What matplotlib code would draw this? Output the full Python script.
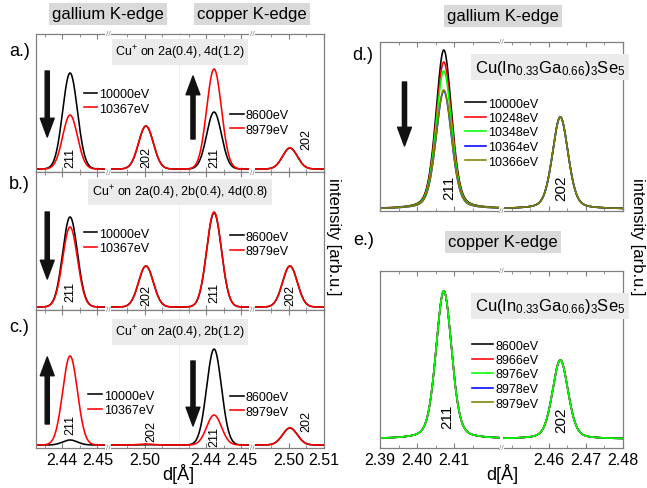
import numpy as np
import matplotlib
matplotlib.use('Agg')
import matplotlib.pyplot as plt
from matplotlib import font_manager

W, H = 647, 489

# ---------------- data ----------------
# left column: simulated profiles (arb. units, same scale in every row)
row_tags = ['a.)', 'b.)', 'c.)']
row_titles = [r'Cu$^{+}$ on 2a(0.4), 4d(1.2)',
              r'Cu$^{+}$ on 2a(0.4), 2b(0.4), 4d(0.8)',
              r'Cu$^{+}$ on 2a(0.4), 2b(1.2)']
ga_energies = ['10000eV', '10367eV']
cu_energies = ['8600eV', '8979eV']
sim_pos = [2.4422, 2.5003]          # 211, 202
sim_sigma = 0.0021
# per row: [black, red]
ga_211 = [[96, 54], [90, 80], [5, 89]]
ga_202 = [[43, 43], [41, 41], [0.3, 1.0]]
cu_211 = [[57, 100], [94, 95], [96, 30]]
cu_202 = [[21, 21], [41, 41], [17, 17]]

# right column: measured profiles
d_energies = ['10000eV', '10248eV', '10348eV', '10364eV', '10366eV']
d_211 = [159, 147, 138, 118, 119]
d_202 = [92, 92, 92, 92, 92]
e_energies = ['8600eV', '8966eV', '8976eV', '8978eV', '8979eV']
e_211 = [148, 148, 148, 148, 148]
e_202 = [79, 79, 79, 79, 79]
meas_pos = [2.4072, 2.4631]
meas_fwhm = 0.005
meas_eta = 0.3

sample = r'Cu(In$_{0.33}$Ga$_{0.66}$)$_3$Se$_5$'

# ---------------- style ----------------
names = {f.name for f in font_manager.fontManager.ttflist}
fam = 'Liberation Sans Narrow' if 'Liberation Sans Narrow' in names else 'Liberation Sans'
plt.rcParams['font.family'] = fam
plt.rcParams['mathtext.fontset'] = 'custom'
plt.rcParams['mathtext.rm'] = fam
plt.rcParams['mathtext.it'] = fam + ':italic'

frame = '#808080'
sim_colors = ['black', '#ff0000']
meas_colors = ['black', '#ff0000', '#00ff00', '#0000ff', '#808000']
hdr_box = dict(fc='#d9d9d9', ec='none', pad=2.5)
ttl_box = dict(fc='#ebebeb', ec='none', pad=2.5)


def broken(b1, b2, gap):
    k = gap / (b2 - b1)

    def fwd(x):
        x = np.asarray(x, dtype=float)
        return np.where(x <= b1, x, np.where(x >= b2, x - (b2 - b1) + gap, b1 + (x - b1) * k))

    def inv(y):
        y = np.asarray(y, dtype=float)
        return np.where(y <= b1, y, np.where(y >= b1 + gap, y + (b2 - b1) - gap, b1 + (y - b1) / k))
    return fwd, inv


def gauss(x, c, h, s):
    return h * np.exp(-0.5 * ((x - c) / s) ** 2)


def pvoigt(x, c, h, fw, eta):
    u = (x - c) / fw
    return h * (eta / (1 + 4 * u ** 2) + (1 - eta) * np.exp(-4 * np.log(2) * u ** 2))


fig = plt.figure(figsize=(W / 100, H / 100), dpi=100)


def px_axes(x0, y0, x1, y1):
    return fig.add_axes([x0 / W, 1 - y1 / H, (x1 - x0) / W, (y1 - y0) / H])


def fp(x, y):
    return x / W, 1 - y / H


def setup(ax, lims, ticks, minor, labels, ylim, tsize):
    lo, b1, b2, hi, gap = lims
    ax.set_xscale('function', functions=broken(b1, b2, gap))
    ax.set_xlim(lo, hi)
    ax.set_ylim(*ylim)
    ax.set_yticks([])
    ax.set_xticks(ticks)
    ax.set_xticks(minor, minor=True)
    ax.set_xticklabels(labels)
    for s in ax.spines.values():
        s.set_color(frame)
        s.set_linewidth(0.9)
    ax.tick_params(axis='x', which='both', direction='in', top=True, bottom=True,
                   color=frame, labelsize=tsize, pad=3)
    ax.tick_params(axis='x', which='major', length=3.5)
    ax.tick_params(axis='x', which='minor', length=2.5)
    xf = (b1 + gap / 2 - lo) / ((b1 - lo) + gap + (hi - b2))
    for yf in (0, 1):
        ax.text(xf, yf, '//', transform=ax.transAxes, ha='center', va='center',
                fontsize=6, color=frame, zorder=6, clip_on=False,
                bbox=dict(fc='white', ec='none', pad=0.3))
    seg = np.concatenate([np.linspace(lo, b1, 250), [np.nan], np.linspace(b2, hi, 250)])
    return seg


def big_arrow(ax, x, y_from, y_to):
    ax.annotate('', xy=(x, y_to), xytext=(x, y_from),
                arrowprops=dict(arrowstyle='simple,head_length=1.35,head_width=1.0,tail_width=0.3',
                                color='#111111', mutation_scale=10, shrinkA=0, shrinkB=0))


def put_legend(ax, lines, labels, x_px, yc_px, hl):
    ax.legend(lines, labels, loc='center left', bbox_to_anchor=fp(x_px, yc_px),
              bbox_transform=fig.transFigure, frameon=False, fontsize=9,
              handlelength=hl, handletextpad=0.15, labelspacing=0.2,
              borderpad=0, borderaxespad=0)


# ---------------- left column: a.) b.) c.) ----------------
row_edges = [35, 173, 311, 449]
sim_lims = (2.4325, 2.4525, 2.49, 2.51, 0.001)
ga_leg = [(83.5, 102.5), (83.5, 242), (88, 404)]
cu_leg = [(230, 123.5), (230, 245), (230, 405.5)]
ga_arrows = [(2.4357, 98, 32), (2.4357, 95, 28), (2.4357, 21, 88)]
cu_arrows = [(2.4362, 30, 93), None, (2.4362, 84, 19)]
ga_lbl = [[(2.4422, 12), (2.5003, 12)], [(2.4422, 16), (2.5003, 13)], [(2.4422, 21), (2.5017, 14)]]
cu_lbl = [[(2.4422, 12), (2.505, 30)], [(2.4422, 15), (2.5003, 13)], [(2.4422, 9), (2.505, 24)]]

for r in range(3):
    y0, y1 = row_edges[r], row_edges[r + 1]
    last = r == 2
    for side in range(2):
        ax = px_axes(36 + 144 * side, y0, 180 + 144 * side, y1)
        if side == 0:
            ticks, minor = [2.44, 2.45, 2.50], [2.435, 2.445, 2.495, 2.505]
            labels = ['2.44', '2.45', '2.50'] if last else []
            h211, h202, en = ga_211[r], ga_202[r], ga_energies
            leg, arr, lbl = ga_leg[r], ga_arrows[r], ga_lbl[r]
        else:
            ticks, minor = [2.44, 2.45, 2.50, 2.51], [2.435, 2.445, 2.495, 2.505]
            labels = ['2.44', '2.45', '2.50', '2.51'] if last else []
            h211, h202, en = cu_211[r], cu_202[r], cu_energies
            leg, arr, lbl = cu_leg[r], cu_arrows[r], cu_lbl[r]
        if not labels:
            ax.set_xticks(ticks)
        x = setup(ax, sim_lims, ticks, minor, labels if labels else [''] * len(ticks),
                  (-3, 135), 11.5)
        lines = []
        for k in range(2):
            y = gauss(x, sim_pos[0], h211[k], sim_sigma) + gauss(x, sim_pos[1], h202[k], sim_sigma)
            ln, = ax.plot(x, y, color=sim_colors[k], lw=1.15)
            lines.append(ln)
        put_legend(ax, lines, en, leg[0], leg[1], 1.1)
        if arr is not None:
            big_arrow(ax, arr[0], arr[1], arr[2])
        for (lx, ly), txt in zip(lbl, ['211', '202']):
            ax.text(lx, ly, txt, rotation=90, ha='center', va='center', fontsize=9)
        if side == 1:
            ax.spines['left'].set_visible(False)
    fig.text(*fp(180, [53, 193, 333][r]), row_titles[r], ha='center', va='center',
             fontsize=9, bbox=ttl_box)
    fig.text(*fp(9, [52, 185, 328][r]), row_tags[r], ha='left', va='center', fontsize=13)

fig.text(*fp(108, 15), 'gallium K-edge', ha='center', va='center', fontsize=12, bbox=hdr_box)
fig.text(*fp(252, 15), 'copper K-edge', ha='center', va='center', fontsize=12, bbox=hdr_box)
fig.text(*fp(178, 474), 'd[Å]', ha='center', va='center', fontsize=13)
fig.text(*fp(333, 237), 'intensity [arb.u.]', ha='center', va='center', fontsize=12, rotation=270)

# ---------------- right column: d.) e.) ----------------
meas_lims = (2.39, 2.422, 2.448, 2.48, 0.0015)
m_ticks = [2.39, 2.40, 2.41, 2.46, 2.47, 2.48]
m_minor = [2.395, 2.405, 2.415, 2.45, 2.455, 2.465, 2.475]
m_labels = ['2.39', '2.40', '2.41', '2.46', '2.47', '2.48']

panels = [
    dict(box=(380, 43, 623, 212), ylim=(-2, 167), h211=d_211, h202=d_202, en=d_energies,
         order=[0, 1, 2, 3, 4], leg=(465, 133.5), lbl=[(2.4086, 22), (2.4633, 22)],
         tag=(352, 55), head=(503, 17), head_txt='gallium K-edge', smp=(550, 68),
         arrow=(2.3966, 127, 63), labels=[''] * 6),
    dict(box=(380, 272, 623, 449), ylim=(-9, 168), h211=e_211, h202=e_202, en=e_energies,
         order=[0, 1, 3, 4, 2], leg=(472, 375.5), lbl=[(2.4081, 23), (2.4633, 20)],
         tag=(353, 241), head=(503, 243), head_txt='copper K-edge', smp=(550, 307),
         arrow=None, labels=m_labels),
]

for p in panels:
    ax = px_axes(*p['box'])
    x = setup(ax, meas_lims, m_ticks, m_minor, p['labels'], p['ylim'], 11.5)
    lines = [None] * 5
    for k in p['order']:
        y = (pvoigt(x, meas_pos[0], p['h211'][k], meas_fwhm, meas_eta)
             + pvoigt(x, meas_pos[1], p['h202'][k], meas_fwhm, meas_eta))
        lines[k], = ax.plot(x, y, color=meas_colors[k], lw=1.15)
    put_legend(ax, lines, p['en'], p['leg'][0], p['leg'][1], 1.7)
    for (lx, ly), txt in zip(p['lbl'], ['211', '202']):
        ax.text(lx, ly, txt, rotation=90, ha='center', va='center', fontsize=11)
    if p['arrow'] is not None:
        big_arrow(ax, *p['arrow'])
    fig.text(*fp(*p['smp']), sample, ha='center', va='center', fontsize=12, bbox=ttl_box)
    fig.text(*fp(*p['tag']), p['tag'] and ('d.)' if p is panels[0] else 'e.)'),
             ha='left', va='center', fontsize=13)
    fig.text(*fp(*p['head']), p['head_txt'], ha='center', va='center', fontsize=12, bbox=hdr_box)

fig.text(*fp(502, 474), 'd[Å]', ha='center', va='center', fontsize=13)
fig.text(*fp(638, 237), 'intensity [arb.u.]', ha='center', va='center', fontsize=12, rotation=270)

fig.savefig('out.png', dpi=100)
